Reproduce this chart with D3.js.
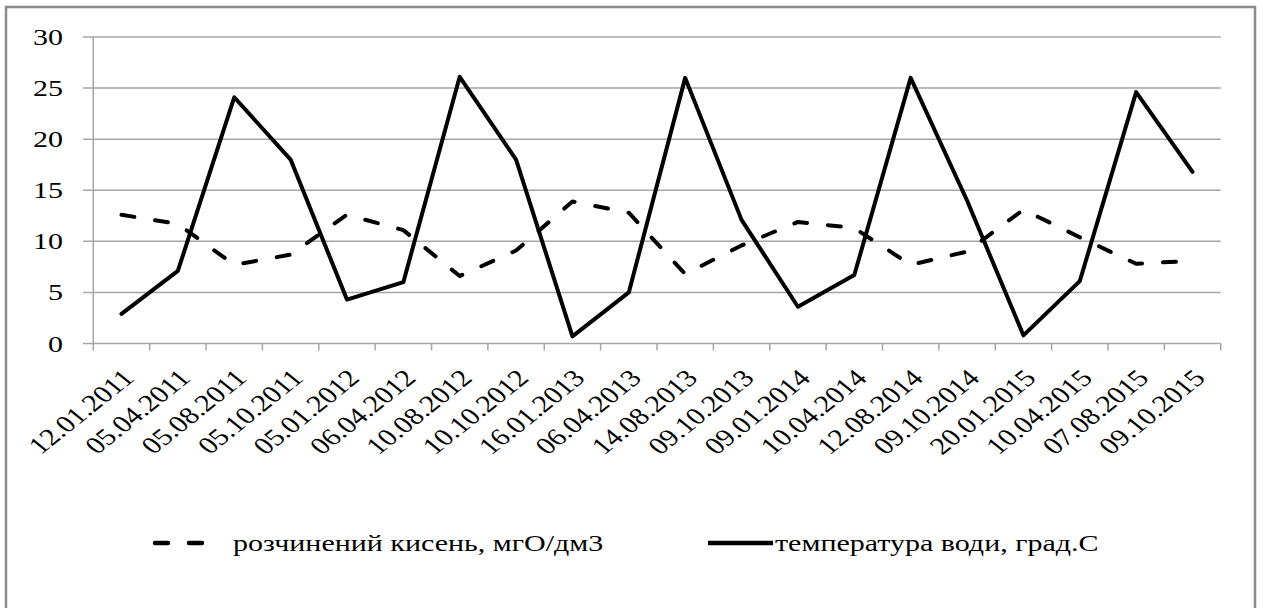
<!DOCTYPE html>
<html lang="uk">
  <head>
    <meta charset="utf-8" />
    <title>Кисень і температура води</title>
    <script src="https://d3js.org/d3.v7.min.js"></script>
    <style>
      body {
        margin: 0;
        background: white;
      }
    </style>
  </head>
  <body>
    <svg width="1263" height="608"></svg>
    <script type="text/javascript">
      const dates = [
        "12.01.2011", "05.04.2011", "05.08.2011", "05.10.2011", "05.01.2012",
        "06.04.2012", "10.08.2012", "10.10.2012", "16.01.2013", "06.04.2013",
        "14.08.2013", "09.10.2013", "09.01.2014", "10.04.2014", "12.08.2014",
        "09.10.2014", "20.01.2015", "10.04.2015", "07.08.2015", "09.10.2015",
      ];
      const oxygen = [
        12.6, 11.7, 7.7, 8.7, 12.6, 11.1, 6.6, 9.1, 13.9, 12.8,
        6.8, 9.6, 11.9, 11.3, 7.7, 9.0, 13.1, 10.4, 7.8, 8.1,
      ];
      const temperature = [
        2.9, 7.1, 24.1, 18.0, 4.3, 6.0, 26.1, 18.0, 0.7, 5.0,
        26.0, 12.1, 3.6, 6.7, 26.0, 14.0, 0.8, 6.1, 24.6, 16.8,
      ];
      const yTicks = [0, 5, 10, 15, 20, 25, 30];
      const seriesNames = ["розчинений кисень, мгО/дм3", "температура води, град.С"];

      const svg = d3.select("svg");
      const sx = 1.25; // the original picture is stretched sideways
      const fontSize = 24;
      const font = "'Liberation Serif', 'Times New Roman', 'DejaVu Serif', serif";
      const gridColor = "#a6a6a6";

      // outer frame
      svg.append("rect")
        .attr("x", 6).attr("y", 7)
        .attr("width", 1249).attr("height", 640)
        .attr("fill", "none")
        .attr("stroke", "#8c8c8c")
        .attr("stroke-width", 2.5);

      const x = d3.scaleBand().domain(dates).range([93.3, 1220.7]);
      const y = d3.scaleLinear().domain([0, 30]).range([343.5, 37]);
      const cx = (i) => x(dates[i]) + x.bandwidth() / 2;

      // horizontal grid + y ticks
      svg.append("g")
        .selectAll("line")
        .data(yTicks)
        .join("line")
        .attr("x1", 83)
        .attr("x2", x.range()[1])
        .attr("y1", (d) => y(d))
        .attr("y2", (d) => y(d))
        .attr("stroke", gridColor)
        .attr("stroke-width", 1.5);

      svg.append("line")
        .attr("x1", x.range()[0]).attr("x2", x.range()[0])
        .attr("y1", y(30)).attr("y2", y(0))
        .attr("stroke", gridColor)
        .attr("stroke-width", 1.5);

      svg.append("g")
        .selectAll("text")
        .data(yTicks)
        .join("text")
        .attr("transform", (d) => `translate(63,${y(d) + 8}) scale(${sx},1)`)
        .attr("text-anchor", "end")
        .attr("font-family", font)
        .attr("font-size", fontSize)
        .text((d) => d);

      // x ticks at band edges
      const edges = dates.map((d) => x(d)).concat([x.range()[1]]);
      svg.append("g")
        .selectAll("line")
        .data(edges)
        .join("line")
        .attr("x1", (d) => d).attr("x2", (d) => d)
        .attr("y1", y(0)).attr("y2", y(0) + 7)
        .attr("stroke", gridColor)
        .attr("stroke-width", 1.5);

      svg.append("g")
        .selectAll("text")
        .data(dates)
        .join("text")
        .attr("transform", (d, i) =>
          `translate(${cx(i) + 14},${y(0) + 36}) scale(${sx},1) rotate(-45)`)
        .attr("text-anchor", "end")
        .attr("font-family", font)
        .attr("font-size", fontSize)
        .text((d) => d);

      // series
      const line = d3.line().x((d, i) => cx(i)).y((d) => y(d));

      svg.append("path")
        .datum(oxygen)
        .attr("d", line)
        .attr("fill", "none")
        .attr("stroke", "black")
        .attr("stroke-width", 4)
        .attr("stroke-linecap", "round")
        .attr("stroke-linejoin", "round")
        .attr("stroke-dasharray", "13,21");

      svg.append("path")
        .datum(temperature)
        .attr("d", line)
        .attr("fill", "none")
        .attr("stroke", "black")
        .attr("stroke-width", 4)
        .attr("stroke-linejoin", "round")
        .attr("stroke-linecap", "round");

      // legend
      const legend = svg.append("g");
      legend.append("line")
        .attr("x1", 155).attr("x2", 208)
        .attr("y1", 543).attr("y2", 543)
        .attr("stroke", "black")
        .attr("stroke-width", 4.5)
        .attr("stroke-linecap", "round")
        .attr("stroke-dasharray", "13,21");
      legend.append("line")
        .attr("x1", 708).attr("x2", 773)
        .attr("y1", 543).attr("y2", 543)
        .attr("stroke", "black")
        .attr("stroke-width", 4.5);
      legend.selectAll("text")
        .data(seriesNames)
        .join("text")
        .attr("transform", (d, i) => `translate(${i === 0 ? 233 : 775},551) scale(${sx},1)`)
        .attr("font-family", font)
        .attr("font-size", fontSize)
        .text((d) => d);
    </script>
  </body>
</html>
